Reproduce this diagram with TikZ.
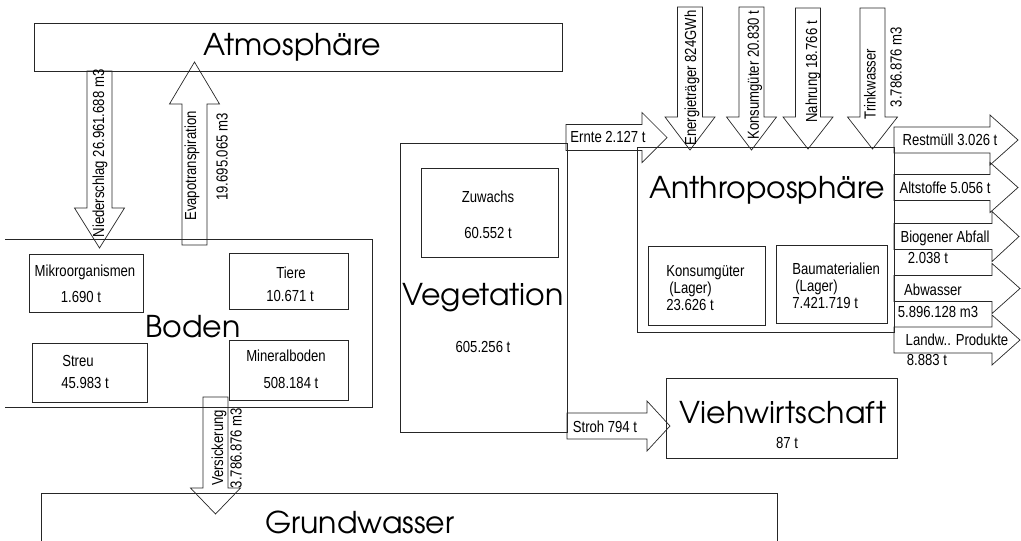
\documentclass[tikz,border=0pt]{standalone}
\usepackage{fontspec}
\setmainfont{Liberation Sans}[FakeStretch=0.82]
\newfontfamily\bigfont{texgyreadventor-regular.otf}

% block arrows: vertical (#1 x centre, #2 tail, #3 head base, #4 tip)
\newcommand{\flowvert}[4]{\draw (#1-12.5,#2) -- (#1-12.5,#3) -- (#1-25,#3) -- (#1,#4) -- (#1+25,#3) -- (#1+12.5,#3) -- (#1+12.5,#2) -- cycle;}
% horizontal (#1 y centre, #2 tail, #3 head base, #4 tip)
\newcommand{\flowright}[4]{\draw (#2,#1-13) -- (#3,#1-13) -- (#3,#1-25) -- (#4,#1) -- (#3,#1+25) -- (#3,#1+13) -- (#2,#1+13) -- cycle;}

\begin{document}
\begin{tikzpicture}[x=1pt,y=-1pt,line width=0.7pt,draw=black!85,
  sphere/.style={font=\bigfont\fontsize{30}{32}\selectfont,inner sep=0pt},
  lbl/.style={font=\fontsize{16}{17}\selectfont,inner sep=0pt},
  vlbl/.style={lbl,rotate=90}]
  \useasboundingbox (0,0) rectangle (1021,541);
  % boxes
  \draw (34,23) rectangle (562,71);
  \draw (5,239) -- (372,239) -- (372,407) -- (5,407);
  \draw (29,254) rectangle (143,312); \draw (229,253) rectangle (348,309);
  \draw (32,343) rectangle (147,402); \draw (229,340) rectangle (348,400);
  \draw (400,143) rectangle (567,432); \draw (421,168) rectangle (558,257);
  \draw (637,147) rectangle (894,332);
  \draw (648,246) rectangle (765,325); \draw (776,245) rectangle (887,323);
  \draw (666,378) rectangle (897,458);
  \draw (41,545) -- (41,493) -- (777,493) -- (777,545);
  % arrows
  \flowvert{99.5}{71}{208}{248} \flowvert{194.5}{245}{104}{62}
  \flowvert{215.5}{397}{488}{514}
  \flowvert{690}{7}{117}{150} \flowvert{751.5}{7}{117}{150}
  \flowvert{808}{8}{117}{149} \flowvert{872.5}{8}{117}{149}
  \flowright{137.5}{566}{642}{667} \flowright{426}{567}{647}{670}
  \flowright{140}{894}{990}{1018} \flowright{187.5}{894}{990}{1018}
  \flowright{236.5}{894}{992}{1019} \flowright{288.5}{894}{992}{1020}
  \flowright{340}{894}{992}{1020}
  % spheres
  \node[sphere] (atm) at (292,47) {Atmosphäre};
  \node[sphere] (boden) at (193,327) {Boden};
  \node[sphere] (veg) at (483,298) {Vegetation};
  \node[sphere] (anthro) at (767,190) {Anthroposphäre};
  \node[sphere] (vieh) at (783,413) {Viehwirtschaft};
  \node[sphere] (grund) at (360,522) {Grundwasser};
  % stocks
  \node[lbl] (mikro) at (85,272) {Mikroorganismen}; \node[lbl] (mikrot) at (81,297) {1.690 t};
  \node[lbl] (tiere) at (291,273) {Tiere}; \node[lbl] (tieret) at (290,296) {10.671 t};
  \node[lbl] (streu) at (78,361) {Streu}; \node[lbl] (streut) at (85,383) {45.983 t};
  \node[lbl] (mineral) at (286,356) {Mineralboden}; \node[lbl] (mineralt) at (291,383) {508.184 t};
  \node[lbl] (zuw) at (488,197) {Zuwachs}; \node[lbl] (zuwt) at (488,233) {60.552 t};
  \node[lbl] (vegt) at (483,347) {605.256 t};
  \node[lbl,align=left,anchor=west] (konsl) at (666,288.5) {Konsumgüter\\\hspace{3pt}(Lager)\\23.626 t};
  \node[lbl,align=left,anchor=west] (baul) at (792,285.5) {Baumaterialien\\\hspace{3pt}(Lager)\\7.421.719 t};
  \node[lbl] (viehtt) at (787,443) {87 t};
  % flows
  \node[vlbl] (nieder) at (100,153.5) {Niederschlag 26.961.688 m3};
  \node[vlbl] (evapo) at (192,166) {Evapotranspiration};
  \node[vlbl] (evapot) at (222,157) {19.695.065 m3};
  \node[vlbl] (versick) at (219,448) {Versickerung};
  \node[vlbl] (versickt) at (236,448) {3.786.876 m3};
  \node[vlbl] (energie) at (692,78) {Energieträger 824GWh};
  \node[vlbl] (konsum) at (755,75) {Konsumgüter 20.830 t};
  \node[vlbl] (nahrung) at (813,72) {Nahrung 18.766 t};
  \node[vlbl] (trink) at (870,84) {Trinkwasser};
  \node[vlbl] (trinkt) at (896,67) {3.786.876 m3};
  \node[lbl] (ernte) at (608,137) {Ernte 2.127 t};
  \node[lbl] (stroh) at (605,427) {Stroh 794 t};
  \node[lbl] (rest) at (950,140) {Restmüll 3.026 t};
  \node[lbl] (alt) at (945,188) {Altstoffe 5.056 t};
  \node[lbl] (bio) at (945,238) {Biogener Abfall}; \node[lbl] (biot) at (928,258) {2.038 t};
  \node[lbl] (abw) at (933,290) {Abwasser}; \node[lbl] (abwt) at (938,312) {5.896.128 m3};
  \node[lbl] (landw) at (957,340) {Landw.. Produkte}; \node[lbl] (landwt) at (927,360) {8.883 t};
\end{tikzpicture}
\end{document}
